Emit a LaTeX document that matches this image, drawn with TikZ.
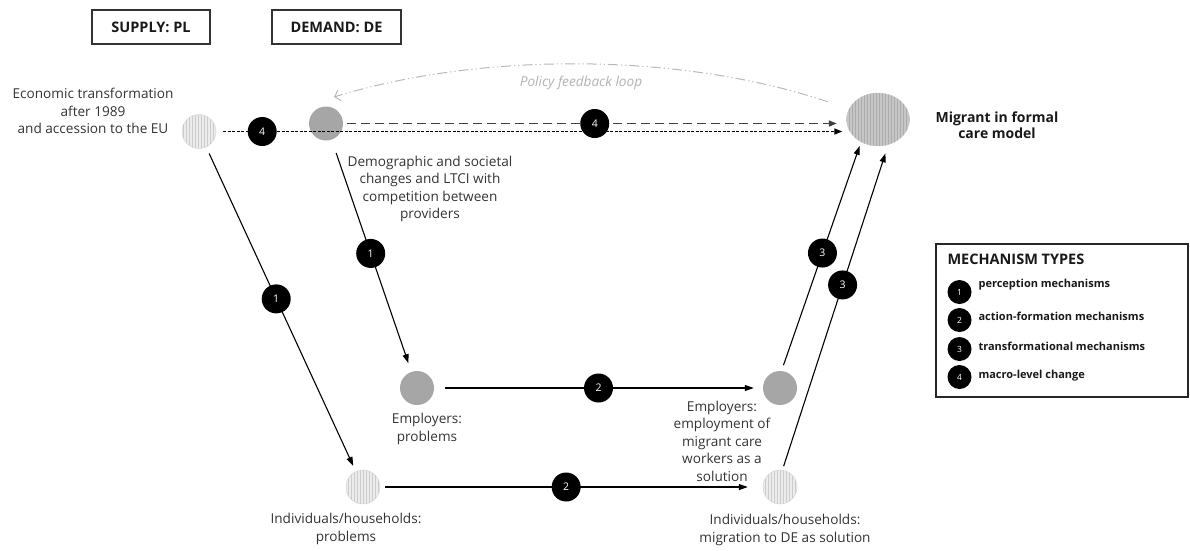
\documentclass[tikz,border=0pt]{standalone}
\usepackage{fontspec}
\setmainfont{Open Sans}
\usetikzlibrary{arrows.meta,patterns,shapes.geometric}

\begin{document}
\begin{tikzpicture}[x=1pt,y=-1pt,
    txt/.style={align=center, text=black!80, font=\fontsize{13.6}{17.5}\selectfont},
    boldtxt/.style={align=center, text=black!90, font=\bfseries\fontsize{14}{16.5}\selectfont},
    boxlbl/.style={draw=black!80, line width=1.3pt, text=black!90, font=\bfseries\fontsize{14.5}{14.5}\selectfont},
    solidball/.style={circle, minimum size=34pt, inner sep=0pt, fill=gray!70},
    hatchball/.style={circle, minimum size=34pt, inner sep=0pt, draw=gray!35, fill=gray!15, postaction={pattern=vertical lines, pattern color=gray!40}},
    badge/.style={circle, fill=black, text=white, minimum size=29pt, inner sep=0pt, font=\fontsize{10.5}{10.5}\selectfont},
    legbadge/.style={circle, fill=black, text=white, minimum size=24pt, inner sep=0pt, font=\fontsize{8.5}{8.5}\selectfont},
    legtxt/.style={anchor=west, text=black!90, font=\bfseries\fontsize{11}{11}\selectfont},
    arr/.style={line width=1.1pt, -{Triangle[length=9pt,width=6pt]}},
    dotline/.style={line width=1.3pt, dash pattern=on 3pt off 1.5pt, -{Triangle[length=8pt,width=6pt]}},
    dashline/.style={line width=1.7pt, draw=black!75, dash pattern=on 9pt off 5pt, -{Triangle[length=8pt,width=6pt]}},
    fbline/.style={line width=1pt, draw=gray!55, dash pattern=on 10pt off 3pt on 1.2pt off 3pt on 1.2pt off 3pt, -{Straight Barb[length=5pt,width=11pt]}}
  ]
    \useasboundingbox (0,0) rectangle (1190,550);

    \node[boxlbl, minimum width=118pt, minimum height=34pt] (supply) at (151,27) {SUPPLY: PL};
    \node[boxlbl, minimum width=129pt, minimum height=34pt] (demand) at (336.5,27) {DEMAND: DE};

    \node[hatchball] (econ) at (199,131.5) {};
    \node[solidball] (demo) at (326,123.5) {};
    \node[ellipse, minimum width=63pt, minimum height=53pt, inner sep=0pt, draw=gray!40, fill=gray!45, postaction={pattern=vertical lines, pattern color=gray!65}] (mig) at (878,119.5) {};
    \node[solidball] (empp) at (417,388) {};
    \node[solidball] (emps) at (780,388) {};
    \node[hatchball] (indp) at (363,487) {};
    \node[hatchball] (inds) at (780,487) {};

    \node[txt] (econtxt) at (93,111) {Economic transformation\\after 1989\\and accession to the EU};
    \node[txt] (demotxt) at (430,189) {Demographic and societal\\changes and LTCI with\\competition between\\providers};
    \node[txt] (empptxt) at (427,429) {Employers:\\problems};
    \node[txt] (empstxt) at (722,441) {Employers:\\employment of\\migrant care\\workers as a\\solution};
    \node[txt] (indptxt) at (346,529) {Individuals/households:\\problems};
    \node[txt] (indstxt) at (785,530) {Individuals/households:\\migration to DE as solution};
    \node[boldtxt] (migtxt) at (997,125) {Migrant in formal\\care model};

    \coordinate (fbtip) at (334,97);
    \draw[fbline, shorten <=22pt] (mig.160) .. controls (680,52) and (480,52) .. (fbtip);
    \node[text=gray!60, font=\itshape\fontsize{13.6}{13.6}\selectfont] (fbtxt) at (581,83) {Policy feedback loop};

    \draw[dotline, shorten <=7pt, shorten >=4pt] (econ.east) -- node[badge, pos=0.073] (b4a) {4} (econ.east -| mig.west);
    \draw[dashline, shorten <=4pt, shorten >=9.5pt] (demo.east) -- node[badge, pos=0.5] (b4b) {4} (demo.east -| mig.west);

    \draw[arr, shorten <=7pt, shorten >=6pt] (econ) -- node[badge, pos=0.468] (b1a) {1} (indp);
    \draw[arr, shorten <=14pt, shorten >=9pt] (demo) -- node[badge, pos=0.49] (b1b) {1} (empp);
    \draw[arr, shorten <=11pt, shorten >=9pt] (empp) -- node[badge, pos=0.5] (b2a) {2} (emps);
    \draw[arr, shorten <=5pt, shorten >=15pt] (indp) -- node[badge, pos=0.486] (b2b) {2} (inds);
    \draw[arr, shorten <=6pt, shorten >=4pt] (emps.85) -- node[badge, pos=0.515] (b3a) {3} (mig.233);
    \draw[arr, shorten <=4pt, shorten >=9pt] (inds.82) -- node[badge, pos=0.569] (b3b) {3} (mig.292);

    % legend
    \node[draw=black!85, line width=1.2pt, minimum width=252pt, minimum height=153pt] (legbox) at (1062,320.5) {};
    \node[anchor=west, text=black!90, font=\bfseries\fontsize{14.5}{14.5}\selectfont] (legtitle) at (944,259) {MECHANISM TYPES};
    \node[legbadge] (lb1) at (959.5,292) {1};
    \node[legtxt] (lt1) at (975,285) {perception mechanisms};
    \node[legbadge] (lb2) at (959.5,320) {2};
    \node[legtxt] (lt2) at (975,316) {action-formation mechanisms};
    \node[legbadge] (lb3) at (959.5,349) {3};
    \node[legtxt] (lt3) at (975,346) {transformational mechanisms};
    \node[legbadge] (lb4) at (959.5,377) {4};
    \node[legtxt] (lt4) at (975,376) {macro-level change};

\end{tikzpicture}
\end{document}
